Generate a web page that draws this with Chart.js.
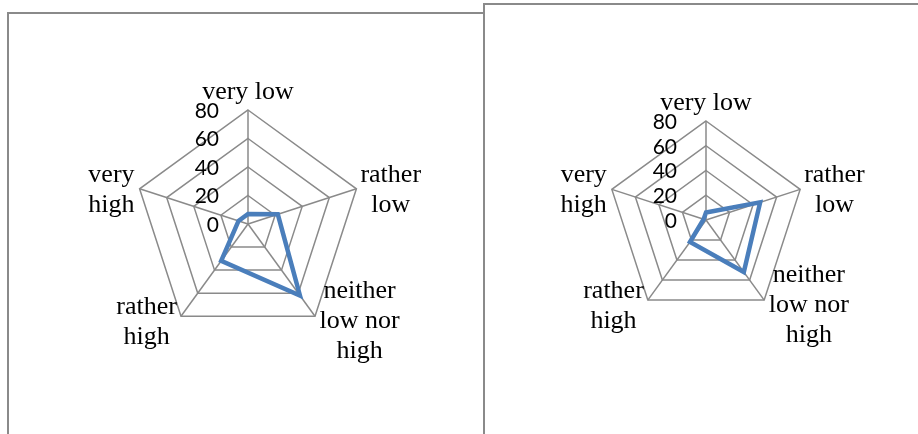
<!DOCTYPE html>
<html>
<head>
<meta charset="utf-8">
<script src="https://cdn.jsdelivr.net/npm/chart.js@4/dist/chart.umd.min.js"></script>
<style>
  html, body { margin: 0; padding: 0; background: #fff; }
  body { width: 918px; height: 434px; overflow: hidden; position: relative; }
  .box { position: absolute; border: 2px solid #8a8a8a; box-sizing: border-box; background: #fff; }
  canvas { position: absolute; left: 0; top: 0; }
</style>
</head>
<body>
<div class="box" style="left:7px; top:12px; width:479px; height:500px;"></div>
<div class="box" style="left:483px; top:3px; width:500px; height:500px;"></div>
<canvas id="c1" width="918" height="434"></canvas>
<canvas id="c2" width="918" height="434"></canvas>
<script>
// ---- data ----
const categories = ['very low', ['rather', 'low'], ['neither', 'low nor', 'high'], ['rather', 'high'], ['very', 'high']];
const leftValues = [7, 22, 62, 32, 7];
const rightValues = [6, 46, 52, 22, 2];
const tickValues = [0, 20, 40, 60, 80];

// ---- label placement (relative to outer vertex) ----
const LABEL_PLACE = [
  { align: 'center', dx: 0, dy: -11 },
  { align: 'left', dx: 4, dy: -7 },
  { align: 'left', dx: 4.5, dy: -18.5 },
  { align: 'right', dx: -4, dy: -2 },
  { align: 'right', dx: -5, dy: -7 }
];

const excelLabels = {
  id: 'excelLabels',
  afterDraw(chart) {
    const s = chart.scales.r;
    const ctx = chart.ctx;
    ctx.save();
    ctx.fillStyle = '#000';
    // tick labels, right-aligned left of the vertical axis
    ctx.font = '21px Lato';
    ctx.textAlign = 'right';
    ctx.textBaseline = 'middle';
    s.ticks.forEach(t => {
      const d = s.getDistanceFromCenterForValue(t.value);
      ctx.fillText(t.label, s.xCenter - 29, s.yCenter - d + 1);
    });
    // category labels
    ctx.font = '26px "Liberation Serif"';
    ctx.textBaseline = 'alphabetic';
    ctx.textAlign = 'center';
    chart.data.labels.forEach((lab, i) => {
      const p = s.getPointPosition(i, s.drawingArea);
      const lines = Array.isArray(lab) ? lab : [lab];
      const W = Math.max(...lines.map(l => ctx.measureText(l).width));
      const cfg = LABEL_PLACE[i];
      let bx = p.x + cfg.dx;
      if (cfg.align === 'left') bx += W / 2;
      else if (cfg.align === 'right') bx -= W / 2;
      lines.forEach((l, k) => ctx.fillText(l, bx, p.y + cfg.dy + k * 30));
    });
    ctx.restore();
  }
};

function makeRadar(id, values, pad) {
  return new Chart(document.getElementById(id), {
    type: 'radar',
    data: {
      labels: categories,
      datasets: [{
        data: values,
        borderColor: '#4a7ebb',
        backgroundColor: 'rgba(0,0,0,0)',
        borderWidth: 4.5,
        borderJoinStyle: 'miter',
        pointRadius: 0,
        pointHoverRadius: 0,
        fill: false,
        tension: 0
      }]
    },
    options: {
      responsive: false,
      animation: false,
      devicePixelRatio: 1,
      layout: { padding: pad },
      plugins: { legend: { display: false }, tooltip: { enabled: false } },
      scales: {
        r: {
          min: 0,
          max: 80,
          beginAtZero: true,
          afterBuildTicks: (sc) => { sc.ticks = tickValues.map(v => ({ value: v })); },
          ticks: { display: false, stepSize: 20 },
          grid: { color: '#8a8a8a', lineWidth: 1.5 },
          angleLines: { color: '#8a8a8a', lineWidth: 1.5 },
          pointLabels: { display: false }
        }
      }
    },
    plugins: [excelLabels]
  });
}

makeRadar('c1', leftValues, { left: 134, top: 110, right: 556, bottom: 96 });
makeRadar('c2', rightValues, { left: 607, top: 121, right: 113, bottom: 115 });
</script>
</body>
</html>
